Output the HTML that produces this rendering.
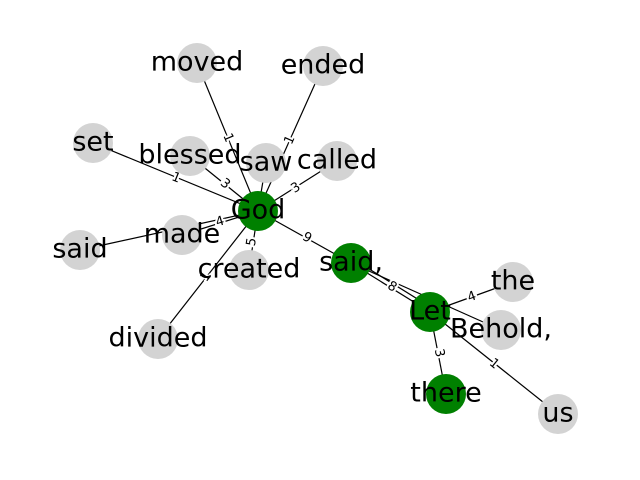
<!DOCTYPE html>
<html><head><style>body{margin:0;background:#fff}svg{display:block}</style></head><body>
<svg width="640" height="480" xmlns="http://www.w3.org/2000/svg" font-family="DejaVu Sans, Liberation Sans, sans-serif">
<g stroke="#000" stroke-width="1.2">
<line x1="258" y1="211" x2="197" y2="63"/>
<line x1="258" y1="211" x2="323" y2="66"/>
<line x1="258" y1="211" x2="93" y2="143"/>
<line x1="258" y1="211" x2="190" y2="156"/>
<line x1="258" y1="211" x2="266" y2="163"/>
<line x1="258" y1="211" x2="337" y2="161"/>
<line x1="258" y1="211" x2="182" y2="235"/>
<line x1="258" y1="211" x2="80" y2="250"/>
<line x1="258" y1="211" x2="249" y2="270"/>
<line x1="258" y1="211" x2="158" y2="339"/>
<line x1="258" y1="211" x2="351" y2="263"/>
<line x1="351" y1="263" x2="430" y2="312"/>
<line x1="353" y1="259" x2="432" y2="308"/>
<line x1="351" y1="263" x2="501" y2="330"/>
<line x1="430" y1="312" x2="513" y2="282"/>
<line x1="430" y1="312" x2="446" y2="394"/>
<line x1="430" y1="312" x2="558" y2="414"/>
</g>
<g font-size="13" text-anchor="middle" dominant-baseline="central" fill="#000" stroke="#fff" stroke-width="4" paint-order="stroke">
<text transform="translate(228,138) rotate(67)">1</text>
<text transform="translate(290,140) rotate(-66)">1</text>
<text transform="translate(176,178) rotate(22)">1</text>
<text transform="translate(225,184) rotate(39)">3</text>
<text transform="translate(296,188) rotate(-33)">3</text>
<text transform="translate(220,222) rotate(-17)">4</text>
<text transform="translate(252,242) rotate(-81)">5</text>
<text transform="translate(206,277) rotate(-52)">1</text>
<text transform="translate(307,238) rotate(29)">9</text>
<text transform="translate(392,287) rotate(31)">8</text>
<text transform="translate(472,297) rotate(-20)">4</text>
<text transform="translate(439,353) rotate(79)">3</text>
<text transform="translate(494,364) rotate(39)">1</text>
</g>
<g>
<circle cx="197" cy="63" r="20" fill="#d3d3d3"/>
<circle cx="323" cy="66" r="20" fill="#d3d3d3"/>
<circle cx="93" cy="143" r="20" fill="#d3d3d3"/>
<circle cx="190" cy="156" r="20" fill="#d3d3d3"/>
<circle cx="266" cy="163" r="20" fill="#d3d3d3"/>
<circle cx="337" cy="161" r="20" fill="#d3d3d3"/>
<circle cx="182" cy="235" r="20" fill="#d3d3d3"/>
<circle cx="80" cy="250" r="20" fill="#d3d3d3"/>
<circle cx="249" cy="270" r="20" fill="#d3d3d3"/>
<circle cx="513" cy="282" r="20" fill="#d3d3d3"/>
<circle cx="501" cy="330" r="20" fill="#d3d3d3"/>
<circle cx="158" cy="339" r="20" fill="#d3d3d3"/>
<circle cx="558" cy="414" r="20" fill="#d3d3d3"/>
<circle cx="258" cy="211" r="20" fill="#008000"/>
<circle cx="351" cy="263" r="20" fill="#008000"/>
<circle cx="430" cy="312" r="20" fill="#008000"/>
<circle cx="446" cy="394" r="20" fill="#008000"/>
</g>
<g font-size="27" text-anchor="middle" dominant-baseline="central" fill="#000">
<text x="197" y="62">moved</text>
<text x="323" y="65">ended</text>
<text x="93" y="142">set</text>
<text x="190" y="155">blessed</text>
<text x="266" y="162">saw</text>
<text x="337" y="160">called</text>
<text x="182" y="234">made</text>
<text x="80" y="249">said</text>
<text x="249" y="269">created</text>
<text x="513" y="281">the</text>
<text x="501" y="329">Behold,</text>
<text x="158" y="338">divided</text>
<text x="558" y="413">us</text>
<text x="258" y="210">God</text>
<text x="351" y="262">said,</text>
<text x="430" y="311">Let</text>
<text x="446" y="393">there</text>
</g>
</svg>
</body></html>
